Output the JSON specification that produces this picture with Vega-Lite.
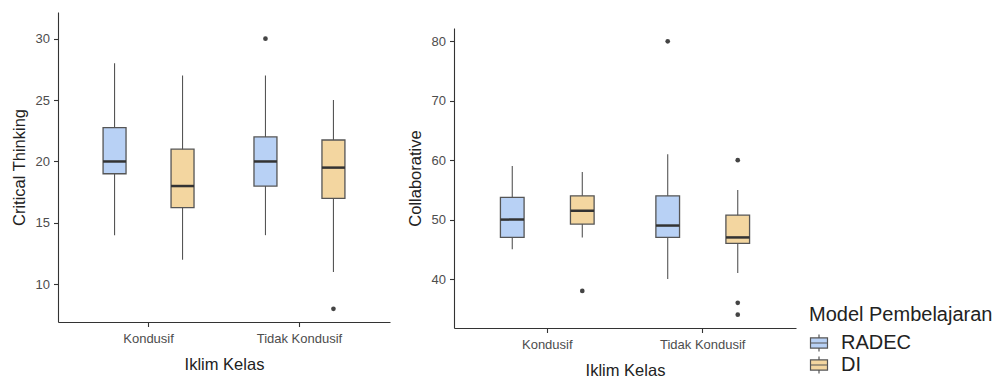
{
  "$schema": "https://vega.github.io/schema/vega-lite/v6.json",
  "padding": {"left": 11, "top": 12, "right": 0, "bottom": 0},
  "background": "white",
  "config": {
    "view": {"stroke": null},
    "font": "Liberation Sans",
    "axis": {
      "grid": false,
      "domainColor": "#333333",
      "domainWidth": 1.1,
      "tickColor": "#333333",
      "tickWidth": 1.1,
      "tickSize": 4.5,
      "labelColor": "#4d4d4d",
      "labelFontSize": 13,
      "labelFont": "Liberation Sans",
      "titleFont": "Liberation Sans",
      "titleColor": "#222222",
      "titleFontSize": 16.5,
      "titleFontWeight": "normal"
    },
    "axisX": {"labelAngle": 0, "labelPadding": 6, "titlePadding": 11},
    "axisY": {"labelPadding": 4, "titlePadding": 8}
  },
  "datasets": {
    "ct_box": [
      {"Iklim": "Kondusif", "Model": "RADEC", "lower": 14, "q1": 19, "median": 20, "q3": 22.75, "upper": 28},
      {"Iklim": "Kondusif", "Model": "DI", "lower": 12, "q1": 16.25, "median": 18, "q3": 21, "upper": 27},
      {"Iklim": "Tidak Kondusif", "Model": "RADEC", "lower": 14, "q1": 18, "median": 20, "q3": 22, "upper": 27},
      {"Iklim": "Tidak Kondusif", "Model": "DI", "lower": 11, "q1": 17, "median": 19.5, "q3": 21.75, "upper": 25}
    ],
    "ct_out": [
      {"Iklim": "Tidak Kondusif", "Model": "RADEC", "value": 30},
      {"Iklim": "Tidak Kondusif", "Model": "DI", "value": 8}
    ],
    "col_box": [
      {"Iklim": "Kondusif", "Model": "RADEC", "lower": 45, "q1": 47, "median": 50, "q3": 53.75, "upper": 59},
      {"Iklim": "Kondusif", "Model": "DI", "lower": 47, "q1": 49.25, "median": 51.5, "q3": 54, "upper": 58},
      {"Iklim": "Tidak Kondusif", "Model": "RADEC", "lower": 40, "q1": 47, "median": 49, "q3": 54, "upper": 61},
      {"Iklim": "Tidak Kondusif", "Model": "DI", "lower": 41, "q1": 46, "median": 47, "q3": 50.75, "upper": 55}
    ],
    "col_out": [
      {"Iklim": "Kondusif", "Model": "DI", "value": 38},
      {"Iklim": "Tidak Kondusif", "Model": "RADEC", "value": 80},
      {"Iklim": "Tidak Kondusif", "Model": "DI", "value": 60},
      {"Iklim": "Tidak Kondusif", "Model": "DI", "value": 36},
      {"Iklim": "Tidak Kondusif", "Model": "DI", "value": 34}
    ],
    "spacer": [{"s": 1}]
  },
  "spacing": 17,
  "resolve": {"scale": {"x": "independent", "y": "independent", "xOffset": "independent", "fill": "shared"}, "legend": {"fill": "shared"}},
  "hconcat": [
    {
      "width": 332,
      "height": 310,
      "encoding": {
        "x": {"field": "Iklim", "type": "nominal", "title": "Iklim Kelas", "scale": {"type": "band", "domain": ["Kondusif", "Tidak Kondusif"], "paddingInner": 0, "paddingOuter": 0.1}},
        "xOffset": {"field": "Model", "type": "nominal", "scale": {"domain": ["RADEC", "DI"], "paddingInner": 0.662, "paddingOuter": 0.441}}
      },
      "layer": [
        {
          "data": {"name": "ct_box"},
          "mark": {"type": "rule", "color": "#555555", "strokeWidth": 1.1},
          "encoding": {
            "y": {"field": "lower", "type": "quantitative", "title": "Critical Thinking", "scale": {"domain": [6.93, 32.17], "nice": false, "zero": false}, "axis": {"values": [10, 15, 20, 25, 30]}},
            "y2": {"field": "upper"}
          }
        },
        {
          "data": {"name": "ct_box"},
          "mark": {"type": "bar", "stroke": "#555555", "strokeWidth": 1.3},
          "encoding": {
            "y": {"field": "q1", "type": "quantitative"},
            "y2": {"field": "q3"},
            "fill": {"field": "Model", "type": "nominal", "title": "Model Pembelajaran", "scale": {"domain": ["RADEC", "DI"], "range": ["#B8D1F5", "#F3D6A0"]},
              "legend": {"orient": "none", "legendX": 751, "legendY": 293, "padding": 0, "titleFontSize": 20, "titleFontWeight": "normal", "titleColor": "#222222", "titleFont": "Liberation Sans", "titlePadding": 8, "titleLimit": 400, "labelLimit": 300, "labelFontSize": 20, "labelColor": "#222222", "labelFont": "Liberation Sans", "labelOffset": 12, "rowPadding": 0, "symbolType": "M0,-1V-0.6M0,0.6V1M-1,-0.6H1V0.6H-1ZM-1,0H1", "symbolSize": 289, "symbolStrokeColor": "#444444", "symbolStrokeWidth": 1.2, "symbolOpacity": 1}}
          }
        },
        {
          "data": {"name": "ct_box"},
          "mark": {"type": "tick", "color": "#333333", "thickness": 2.5, "size": 23, "opacity": 1},
          "encoding": {"y": {"field": "median", "type": "quantitative"}}
        },
        {
          "data": {"name": "ct_out"},
          "mark": {"type": "point", "filled": true, "color": "#444444", "size": 22, "opacity": 1},
          "encoding": {"y": {"field": "value", "type": "quantitative"}}
        }
      ]
    },
    {
      "spacing": 15,
      "resolve": {"scale": {"fill": "shared"}, "legend": {"fill": "shared"}},
      "vconcat": [
        {
          "width": 342,
          "height": 1,
          "data": {"name": "spacer"},
          "mark": {"type": "point", "opacity": 0, "size": 0},
          "encoding": {}
        },
        {
          "width": 342,
          "height": 300,
          "encoding": {
            "x": {"field": "Iklim", "type": "nominal", "title": "Iklim Kelas", "scale": {"type": "band", "domain": ["Kondusif", "Tidak Kondusif"], "paddingInner": 0, "paddingOuter": 0.1}},
            "xOffset": {"field": "Model", "type": "nominal", "scale": {"domain": ["RADEC", "DI"], "paddingInner": 0.662, "paddingOuter": 0.441}}
          },
          "layer": [
            {
              "data": {"name": "col_box"},
              "mark": {"type": "rule", "color": "#555555", "strokeWidth": 1.1},
              "encoding": {
                "y": {"field": "lower", "type": "quantitative", "title": "Collaborative", "scale": {"domain": [31.76, 82.24], "nice": false, "zero": false}, "axis": {"values": [40, 50, 60, 70, 80]}},
                "y2": {"field": "upper"}
              }
            },
            {
              "data": {"name": "col_box"},
              "mark": {"type": "bar", "stroke": "#555555", "strokeWidth": 1.3},
              "encoding": {
                "y": {"field": "q1", "type": "quantitative"},
                "y2": {"field": "q3"},
                "fill": {"field": "Model", "type": "nominal", "title": "Model Pembelajaran", "scale": {"domain": ["RADEC", "DI"], "range": ["#B8D1F5", "#F3D6A0"]}}
              }
            },
            {
              "data": {"name": "col_box"},
              "mark": {"type": "tick", "color": "#333333", "thickness": 2.5, "size": 23.5, "opacity": 1},
              "encoding": {"y": {"field": "median", "type": "quantitative"}}
            },
            {
              "data": {"name": "col_out"},
              "mark": {"type": "point", "filled": true, "color": "#444444", "size": 22, "opacity": 1},
              "encoding": {"y": {"field": "value", "type": "quantitative"}}
            }
          ]
        }
      ]
    }
  ]
}
